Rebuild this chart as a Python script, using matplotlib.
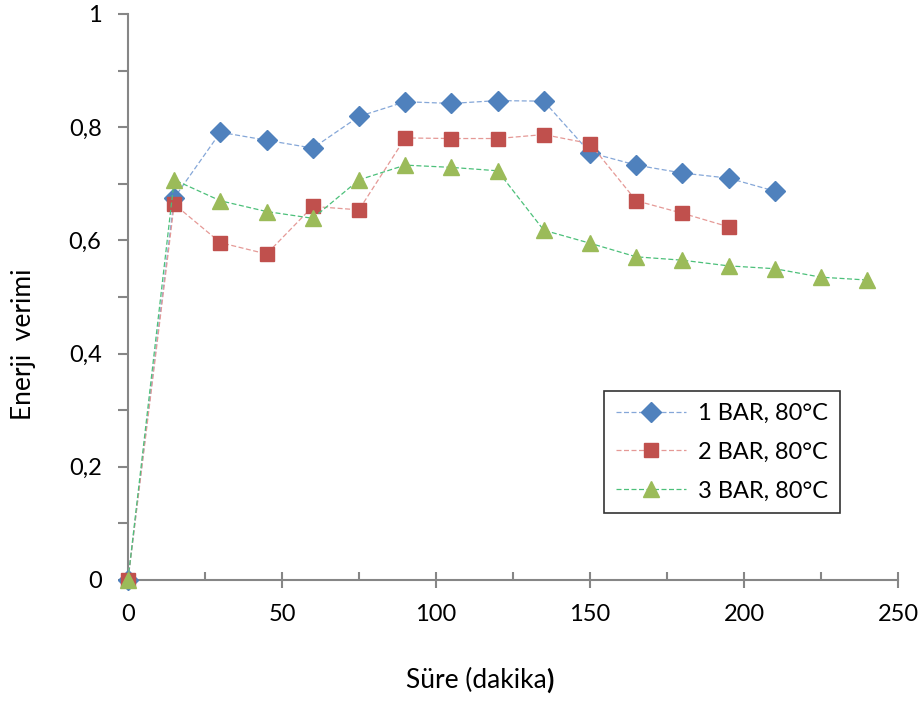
import matplotlib
matplotlib.use("Agg")
import matplotlib.pyplot as plt
from matplotlib.ticker import MultipleLocator, FuncFormatter

plt.rcParams['font.family'] = ['Lato', 'DejaVu Sans']

time_1 = [0, 15, 30, 45, 60, 75, 90, 105, 120, 135, 150, 165, 180, 195, 210]
bar_1 = [0.0, 0.675, 0.791, 0.777, 0.763, 0.819, 0.845, 0.842, 0.847, 0.846,
         0.755, 0.733, 0.719, 0.710, 0.687]

time_2 = [0, 15, 30, 45, 60, 75, 90, 105, 120, 135, 150, 165, 180, 195]
bar_2 = [0.0, 0.664, 0.596, 0.576, 0.660, 0.654, 0.781, 0.780, 0.780, 0.787,
         0.771, 0.670, 0.648, 0.624]

time_3 = [0, 15, 30, 45, 60, 75, 90, 105, 120, 135, 150, 165, 180, 195, 210, 225, 240]
bar_3 = [0.0, 0.707, 0.670, 0.651, 0.639, 0.707, 0.733, 0.729, 0.723, 0.618,
         0.595, 0.571, 0.565, 0.555, 0.550, 0.535, 0.530]

labels = ["1 BAR, 80°C", "2 BAR, 80°C", "3 BAR, 80°C"]

fig = plt.figure(figsize=(9.24, 7.04), dpi=100)
ax = fig.add_axes([128/924, 1-580/704, 770/924, 566/704])

dash = (0, (4, 2))
ax.plot(time_1, bar_1, linestyle=dash, color='#85A7D8', lw=0.9,
        marker='D', markersize=10, markerfacecolor='#4F81BD', markeredgecolor='#4F81BD',
        label=labels[0], zorder=3, clip_on=False)
ax.plot(time_2, bar_2, linestyle=dash, color='#E59996', lw=0.9,
        marker='s', markersize=10, markerfacecolor='#C0504D', markeredgecolor='#C0504D',
        label=labels[1], zorder=3, clip_on=False)
ax.plot(time_3, bar_3, linestyle=dash, color='#4CC07A', lw=0.9,
        marker='^', markersize=12, markerfacecolor='#9BBB59', markeredgecolor='#9BBB59',
        label=labels[2], zorder=3, clip_on=False)

ax.set_xlim(0, 250)
ax.set_ylim(0, 1)
for s in ['top', 'right']:
    ax.spines[s].set_visible(False)
for s in ['left', 'bottom']:
    ax.spines[s].set_color('#868686')
    ax.spines[s].set_linewidth(1.5)
    ax.spines[s].set_zorder(1)

ax.xaxis.set_major_locator(MultipleLocator(50))
ax.xaxis.set_minor_locator(MultipleLocator(25))
ax.yaxis.set_major_locator(MultipleLocator(0.2))
ax.yaxis.set_minor_locator(MultipleLocator(0.1))
ax.yaxis.set_major_formatter(FuncFormatter(lambda v, p: ('%g' % round(v, 1)).replace('.', ',')))

ax.tick_params(axis='x', which='major', direction='inout', length=12, width=1.5, color='#868686',
               labelsize=17, pad=11)
ax.tick_params(axis='x', which='minor', direction='in', length=6, width=1.5, color='#868686')
ax.tick_params(axis='y', which='major', direction='out', length=7, width=1.5, color='#868686',
               labelsize=17, pad=12)
ax.tick_params(axis='y', which='minor', direction='out', length=7, width=1.5, color='#868686')

xl = ax.set_xlabel("Süre (dakika", fontsize=19)
ax.xaxis.set_label_coords(0.452, -0.177)
xl.set_verticalalignment('center')
ax.annotate(")", xy=(1, 0), xycoords=xl, ha='left', va='bottom', fontsize=19, fontweight='bold')

ax.set_ylabel("Enerji  verimi", fontsize=19)
ax.yaxis.set_label_coords(-0.136, 0.417)
ax.yaxis.label.set_verticalalignment('center')

leg = ax.legend(loc='lower left', bbox_to_anchor=(0.618, 0.118), borderaxespad=0,
                fontsize=17, frameon=True, fancybox=False, handlelength=3.0,
                handletextpad=0.5, labelspacing=0.75, borderpad=0.5)
leg.get_frame().set_edgecolor('black')
leg.get_frame().set_linewidth(1.2)

fig.savefig("out.png", dpi=100)
